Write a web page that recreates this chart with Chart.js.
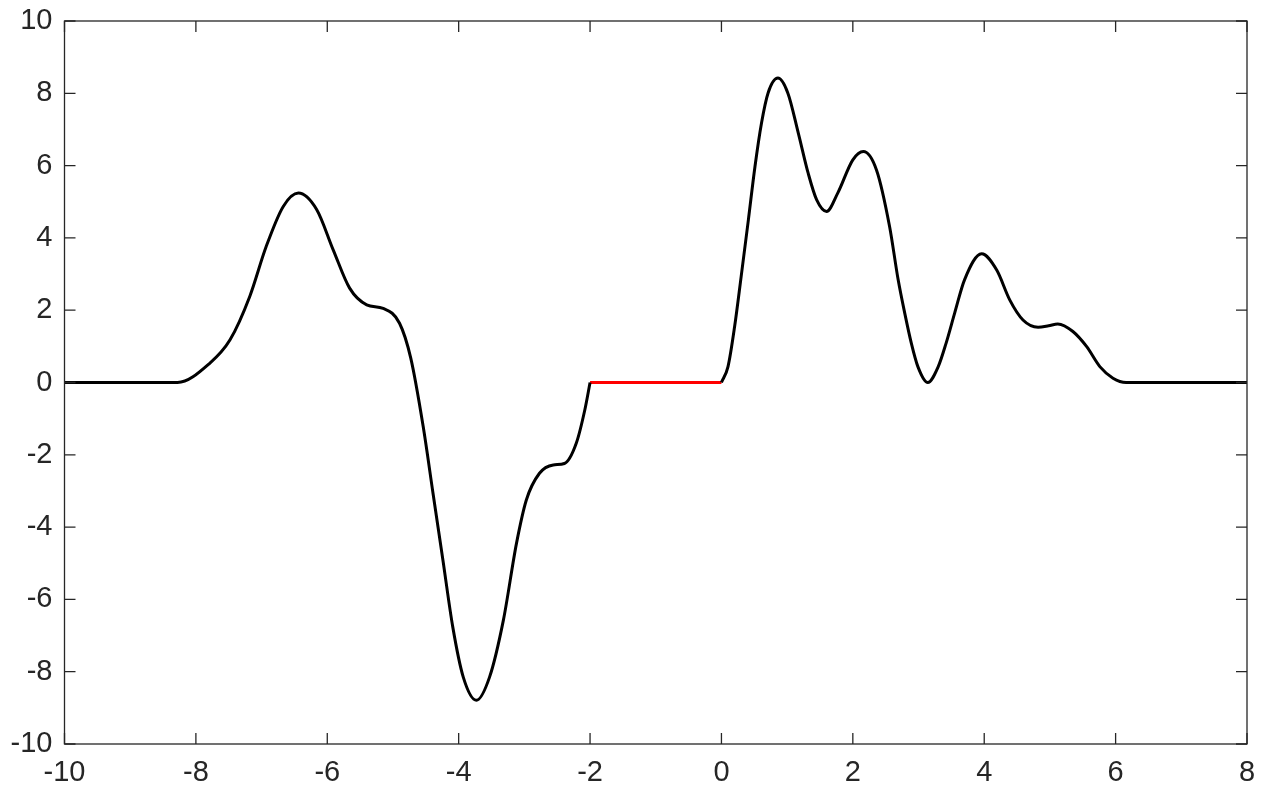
<!DOCTYPE html>
<html>
<head>
<meta charset="utf-8">
<title>Kurve</title>
<script src="https://cdn.jsdelivr.net/npm/chart.js@4/dist/chart.umd.min.js"></script>
<style>
  html, body { margin: 0; padding: 0; background: #fff; }
  canvas { display: block; }
</style>
</head>
<body>
<canvas id="kurve" width="1266" height="798"></canvas>
<script>
// Werte
const linksX = [-10, -8.28, -7.79, -7.48, -7.18, -6.93, -6.67, -6.44, -6.16, -5.91, -5.66, -5.40, -5.15, -4.90, -4.73, -4.54, -4.39, -4.24, -4.09, -3.93, -3.73, -3.53, -3.32, -3.12, -2.97, -2.77, -2.56, -2.39, -2.21, -2.08, -2.0];
const linksY = [0, 0, 0.53, 1.18, 2.38, 3.76, 4.87, 5.24, 4.78, 3.67, 2.61, 2.15, 2.05, 1.64, 0.68, -1.22, -3.07, -4.91, -6.76, -8.15, -8.79, -8.15, -6.58, -4.45, -3.25, -2.51, -2.28, -2.24, -1.68, -0.76, 0];

const rotX = [-2, 0];
const rotY = [0, 0];

const rechtsX = [0, 0.10, 0.20, 0.30, 0.41, 0.51, 0.61, 0.71, 0.86, 1.01, 1.17, 1.32, 1.45, 1.60, 1.77, 2.0, 2.16, 2.36, 2.56, 2.69, 2.79, 2.89, 2.99, 3.14, 3.30, 3.42, 3.55, 3.70, 3.96, 4.19, 4.39, 4.59, 4.82, 4.98, 5.12, 5.35, 5.56, 5.76, 5.96, 6.16, 8];
const rechtsY = [0, 0.44, 1.54, 2.93, 4.50, 5.97, 7.18, 8.01, 8.42, 8.01, 6.90, 5.79, 5.05, 4.73, 5.24, 6.16, 6.39, 5.88, 4.31, 2.84, 1.92, 1.09, 0.44, 0, 0.44, 1.09, 1.92, 2.84, 3.56, 3.11, 2.28, 1.73, 1.53, 1.57, 1.62, 1.41, 0.99, 0.44, 0.12, 0, 0];

const xTicks = [-10, -8, -6, -4, -2, 0, 2, 4, 6, 8];
const yTicks = [-10, -8, -6, -4, -2, 0, 2, 4, 6, 8, 10];

const achsenFarbe = "#262626";
const schrift = { family: "'Liberation Sans', Helvetica, Arial, sans-serif", size: 29 };

function punkte(xs, ys) {
  return xs.map((x, i) => ({ x: x, y: ys[i] }));
}

function serie(xs, ys, farbe) {
  return {
    data: punkte(xs, ys),
    borderColor: farbe,
    borderWidth: 3,
    pointRadius: 0,
    fill: false,
    cubicInterpolationMode: "monotone"
  };
}

// Rahmen und Striche nach innen (wie MATLAB "box on")
const rahmenPlugin = {
  id: "rahmen",
  afterDraw(chart) {
    const ctx = chart.ctx;
    const a = chart.chartArea;
    const sx = chart.scales.x;
    const sy = chart.scales.y;
    const len = 11;
    ctx.save();
    ctx.strokeStyle = achsenFarbe;
    ctx.lineWidth = 1.3;
    ctx.beginPath();
    xTicks.forEach(t => {
      const px = sx.getPixelForValue(t);
      ctx.moveTo(px, a.bottom);
      ctx.lineTo(px, a.bottom - len);
      ctx.moveTo(px, a.top);
      ctx.lineTo(px, a.top + len);
    });
    yTicks.forEach(t => {
      const py = sy.getPixelForValue(t);
      ctx.moveTo(a.left, py);
      ctx.lineTo(a.left + len, py);
      ctx.moveTo(a.right, py);
      ctx.lineTo(a.right - len, py);
    });
    ctx.stroke();
    ctx.strokeRect(a.left, a.top, a.right - a.left, a.bottom - a.top);
    ctx.restore();
  }
};

new Chart(document.getElementById("kurve"), {
  type: "line",
  data: {
    datasets: [
      serie(linksX, linksY, "#000000"),
      serie(rechtsX, rechtsY, "#000000"),
      serie(rotX, rotY, "#ff0000")
    ]
  },
  options: {
    responsive: false,
    animation: false,
    layout: { padding: { top: 21, right: 19, left: 0, bottom: 0 } },
    plugins: {
      legend: { display: false },
      tooltip: { enabled: false }
    },
    scales: {
      x: {
        type: "linear",
        min: -10,
        max: 8,
        grid: { display: false, drawTicks: false },
        border: { display: false },
        afterBuildTicks: s => { s.ticks = xTicks.map(v => ({ value: v })); },
        afterFit: s => { s.height = 54; s.paddingLeft = 0; s.paddingRight = 0; },
        ticks: { color: achsenFarbe, font: schrift, padding: 12, maxRotation: 0 }
      },
      y: {
        min: -10,
        max: 10,
        grid: { display: false, drawTicks: false },
        border: { display: false },
        afterBuildTicks: s => { s.ticks = yTicks.map(v => ({ value: v })); },
        afterFit: s => { s.width = 64.5; s.paddingTop = 0; s.paddingBottom = 0; },
        ticks: { color: achsenFarbe, font: schrift, padding: 12 }
      }
    }
  },
  plugins: [rahmenPlugin]
});
</script>
</body>
</html>
